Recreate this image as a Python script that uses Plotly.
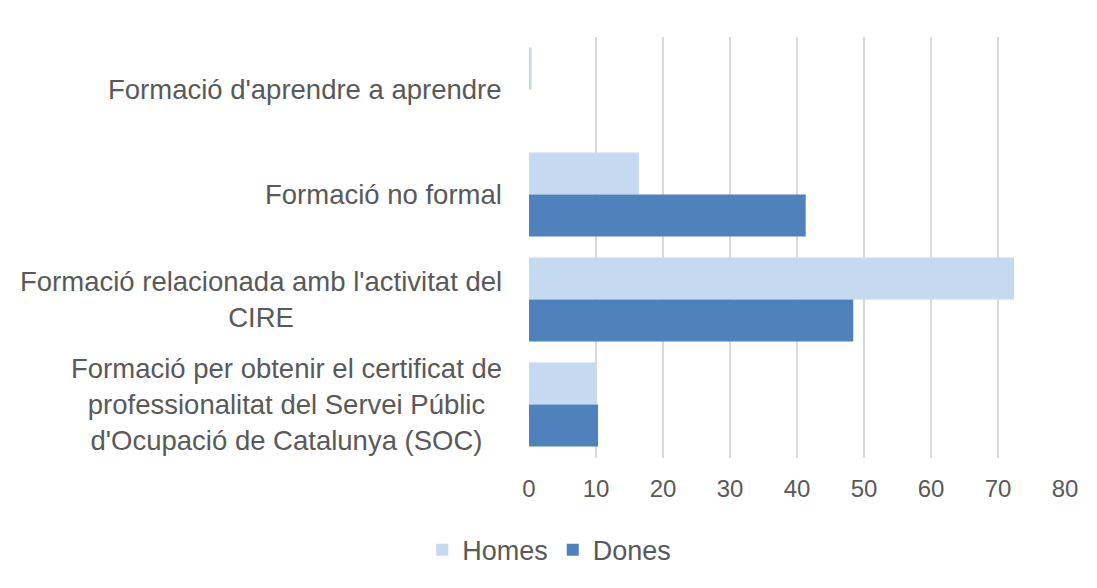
import plotly.graph_objects as go

categories = [
    "Formació d'aprendre a aprendre",
    "Formació no formal",
    "Formació relacionada amb l'activitat del<br>CIRE",
    "Formació per obtenir el certificat de<br>professionalitat del Servei Públic<br>d'Ocupació de Catalunya (SOC)",
]
homes = [0.4, 16.4, 72.4, 10.0]
dones = [0.0, 41.3, 48.4, 10.3]
series_names = ["Homes", "Dones"]

FONT = "Liberation Sans, Arial, sans-serif"
GREY = "#595959"

fig = go.Figure()
fig.add_trace(go.Bar(y=categories, x=homes, name=series_names[0], orientation="h",
                     marker=dict(color="#C5D9F1", line=dict(width=0))))
fig.add_trace(go.Bar(y=categories, x=dones, name=series_names[1], orientation="h",
                     marker=dict(color="#4F81BD", line=dict(width=0))))

for c in categories:
    fig.add_annotation(x=0, xref="paper", y=c, yref="y", text=c, showarrow=False,
                       xanchor="right", align="center", xshift=-25,
                       font=dict(family=FONT, size=27.5, color=GREY))

fig.update_layout(
    width=1089, height=580,
    margin=dict(l=521, r=32, t=29, b=130),
    paper_bgcolor="white", plot_bgcolor="white",
    barmode="group", bargap=0.2, bargroupgap=0,
    font=dict(family=FONT, size=26, color=GREY),
    legend=dict(orientation="h", x=0.497, xref="container", xanchor="center",
                y=0.065, yref="container", yanchor="middle",
                font=dict(family=FONT, size=27, color=GREY),
                itemwidth=30, tracegroupgap=0),
    showlegend=True,
)
fig.update_xaxes(range=[0, 80], dtick=10, showgrid=True, gridcolor="#D9D9D9", gridwidth=2,
                 zeroline=False, showline=False, ticks="", ticklabelstandoff=14,
                 tickfont=dict(family=FONT, size=24, color=GREY))
fig.update_yaxes(autorange="reversed", showticklabels=False, showgrid=False, zeroline=False,
                 showline=False, ticks="")

fig.write_html("out.html")
